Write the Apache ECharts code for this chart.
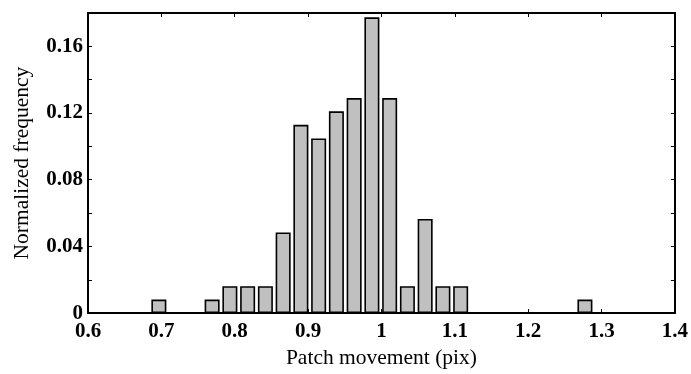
<!DOCTYPE html>
<html>
<head>
<meta charset="utf-8">
<script src="https://cdn.jsdelivr.net/npm/echarts@6/dist/echarts.min.js"></script>
<style>html,body{margin:0;padding:0;background:#fff;}#c{width:691px;height:374px;}</style>
</head>
<body>
<div id="c"></div>
<script>
// Histogram bin centres (pix) and normalized frequencies
var binCenters = [0.6966, 0.7208, 0.7450, 0.7692, 0.7934, 0.8176, 0.8418, 0.8660, 0.8902, 0.9144,
                  0.9386, 0.9628, 0.9870, 1.0112, 1.0354, 1.0596, 1.0838, 1.1080, 1.1322, 1.1564,
                  1.1806, 1.2048, 1.2290, 1.2532, 1.2774];
var frequency = [0.0081, 0, 0, 0.0081, 0.0161, 0.0161, 0.0161, 0.0484, 0.1129, 0.1048,
                 0.1210, 0.1290, 0.1774, 0.1290, 0.0161, 0.0565, 0.0161, 0.0161, 0, 0,
                 0, 0, 0, 0, 0.0081];
var xTitle = 'Patch movement (pix)';
var yTitle = 'Normalized frequency';

var barData = [];
for (var i = 0; i < binCenters.length; i++) {
  if (frequency[i] > 0) barData.push([binCenters[i], frequency[i]]);
}

var FONT = '"Liberation Serif", "Times New Roman", serif';
var tickLabel = {color: '#000', fontFamily: FONT, fontWeight: 'bold', fontSize: 21};
var lineStyle = {color: '#000', width: 2};
var tick = {show: true, inside: true, length: 4, lineStyle: {color: '#000', width: 1}};

var chart = echarts.init(document.getElementById('c'), null, {renderer: 'canvas'});
chart.setOption({
  animation: false,
  backgroundColor: '#fff',
  grid: {left: 88, right: 16, top: 13, bottom: 57, containLabel: false},
  xAxis: [{
    type: 'value', min: 0.6, max: 1.4, interval: 0.1, position: 'bottom',
    axisLine: {show: true, onZero: false, lineStyle: lineStyle},
    axisTick: tick,
    axisLabel: Object.assign({margin: 8}, tickLabel),
    splitLine: {show: false},
    name: xTitle, nameLocation: 'middle', nameGap: 30,
    nameTextStyle: {color: '#000', fontFamily: FONT, fontSize: 21.5}
  }, {
    type: 'value', min: 0.6, max: 1.4, interval: 0.1, position: 'top',
    axisLine: {show: true, onZero: false, lineStyle: lineStyle},
    axisTick: tick,
    axisLabel: {show: false}, splitLine: {show: false}
  }],
  yAxis: [{
    type: 'value', min: 0, max: 0.18, interval: 0.02, position: 'left',
    axisLine: {show: true, onZero: false, lineStyle: lineStyle},
    axisTick: tick,
    axisLabel: Object.assign({
      margin: 5,
      formatter: function (v) {
        var k = Math.round(v / 0.02);
        if (k % 2 !== 0 || k > 8) return '';
        return k === 0 ? '0' : (k * 0.02).toFixed(2);
      }
    }, tickLabel),
    splitLine: {show: false},
    name: yTitle, nameLocation: 'middle', nameGap: 55,
    nameTextStyle: {color: '#000', fontFamily: FONT, fontSize: 21.5}
  }, {
    type: 'value', min: 0, max: 0.18, interval: 0.02, position: 'right',
    axisLine: {show: true, onZero: false, lineStyle: lineStyle},
    axisTick: tick,
    axisLabel: {show: false}, splitLine: {show: false}
  }],
  series: [{
    type: 'bar',
    xAxisIndex: 0, yAxisIndex: 0,
    data: barData,
    barWidth: 15,
    itemStyle: {color: '#c0c0c0', borderColor: '#000', borderWidth: 1.6}
  }]
});
</script>
</body>
</html>
